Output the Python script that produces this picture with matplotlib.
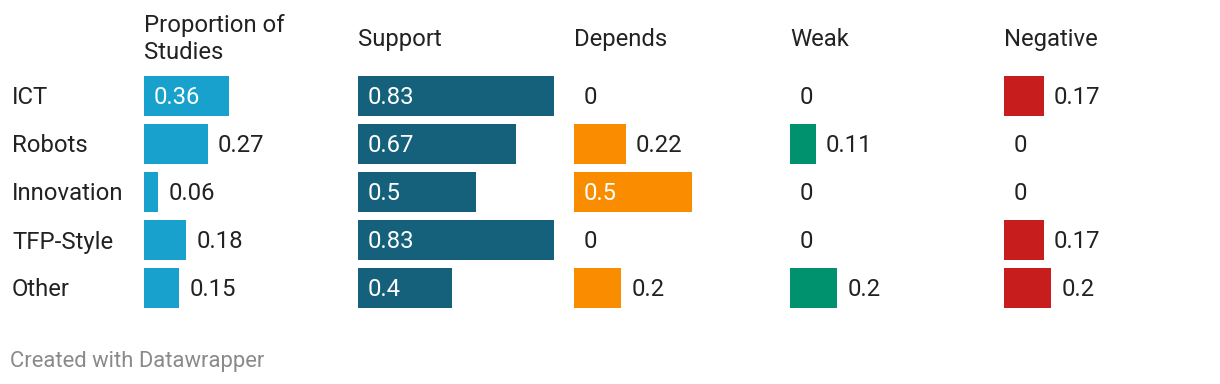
import matplotlib.pyplot as plt
import matplotlib.transforms as mtransforms

plt.rcParams['font.family'] = ['Roboto', 'DejaVu Sans']

# data
categories = ['ICT', 'Robots', 'Innovation', 'TFP-Style', 'Other']
columns = ['Proportion of\nStudies', 'Support', 'Depends', 'Weak', 'Negative']
proportion = [0.36, 0.27, 0.06, 0.18, 0.15]
support = [0.83, 0.67, 0.5, 0.83, 0.4]
depends = [0, 0.22, 0.5, 0, 0.2]
weak = [0, 0.11, 0, 0, 0.2]
negative = [0.17, 0, 0, 0.17, 0.2]
series = [proportion, support, depends, weak, negative]
colors = ['#18a1cd', '#15607a', '#fa8c00', '#00926e', '#c71e1d']

W, H = 1220, 384
fig = plt.figure(figsize=(W / 100, H / 100), dpi=100)

col_x = [144, 358, 574, 790, 1004]   # left edge of each column in px
col_w = 200
px_per_unit = 236
top, bottom = 72, 312
text_col = '#222222'
fs = 17.2

for j, (vals, name, c) in enumerate(zip(series, columns, colors)):
    ax = fig.add_axes([col_x[j] / W, 1 - bottom / H, col_w / W, (bottom - top) / H])
    ax.set_xlim(0, col_w / px_per_unit)
    ax.set_ylim(len(categories) - 0.5, -0.5)
    ax.barh(range(len(vals)), vals, height=40 / 48, color=c)
    ax.axis('off')
    for i, v in enumerate(vals):
        label = f'{v:g}'
        if v >= 0.3:
            ax.annotate(label, (0, i), xytext=(10, -2), textcoords='offset pixels',
                        va='center', ha='left', color='white', fontsize=fs)
        else:
            ax.annotate(label, (v, i), xytext=(10, -2), textcoords='offset pixels',
                        va='center', ha='left', color=text_col, fontsize=fs)
    if '\n' in name:
        fig.text(col_x[j] / W, 1 - 39 / H, name, ha='left', va='center',
                 color=text_col, fontsize=fs, linespacing=1.2)
    else:
        fig.text(col_x[j] / W, 1 - 46 / H, name, ha='left', va='baseline',
                 color=text_col, fontsize=fs)
    if j == 0:
        trans = mtransforms.blended_transform_factory(fig.transFigure, ax.transData)
        for i, cat in enumerate(categories):
            ax.text(12 / W, i + 2 / 48, cat, transform=trans, ha='left', va='center',
                    color=text_col, fontsize=fs)

fig.text(10 / W, 1 - 362 / H, 'Created with Datawrapper', ha='left', va='center',
         color='#8a8a8a', fontsize=15.8)

fig.savefig('out.png', dpi=100, facecolor='white')
